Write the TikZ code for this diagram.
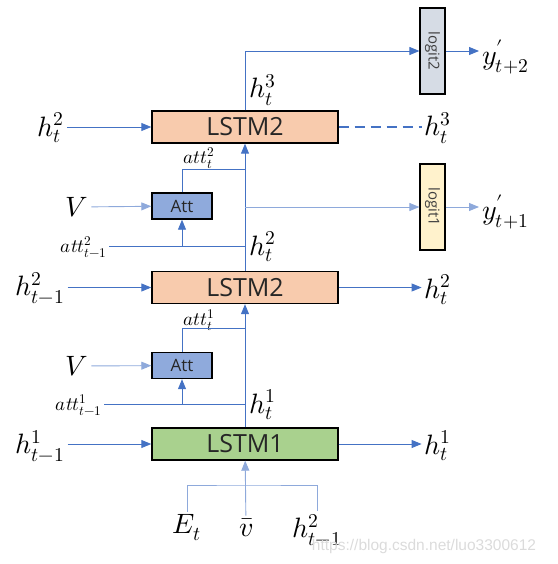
\documentclass[tikz,border=0pt]{standalone}
\usepackage{fontspec}
\usepackage{unicode-math}
\usepackage{graphicx}
\newfontfamily\boxfont{Open Sans}
\newfontfamily\markfont{Liberation Sans}
\usepackage{xcolor}
\definecolor{pLine}{HTML}{4472C4}
\definecolor{pLineLt}{HTML}{8EA9DB}
\definecolor{pPeach}{HTML}{F8CBAD}
\definecolor{pGreen}{HTML}{A9D18E}
\definecolor{pAtt}{HTML}{8FAADC}
\definecolor{pSlate}{HTML}{D6DCE5}
\definecolor{pCream}{HTML}{FFF2CC}
\definecolor{pInk}{HTML}{262626}
\usepackage{tikz}
\usetikzlibrary{arrows.meta, calc}

\tikzset{
  lstmbox/.style={draw=black, line width=1.4pt, minimum width=186pt, minimum height=32pt,
    text=pInk, font=\boxfont\fontsize{25}{28}\selectfont},
  attbox/.style={draw=black, fill=pAtt, line width=1.4pt, minimum width=60pt, minimum height=26pt,
    text=pInk, font=\boxfont\fontsize{17}{20}\selectfont},
  logitbox/.style={draw=black, line width=1.2pt, minimum width=25pt, minimum height=86pt,
    inner sep=0pt, text=black!75, font=\boxfont\fontsize{15}{17}\selectfont},
  mlabel/.style={inner sep=3pt, font=\fontsize{28}{31}\selectfont},
  slabel/.style={inner sep=2pt, font=\fontsize{19}{22}\selectfont},
  line/.style={pLine, line width=0.9pt},
  lineLt/.style={pLineLt, line width=0.9pt},
  arr/.style={line, -{Triangle[length=10pt, width=8pt]}},
  arrLt/.style={lineLt, -{Triangle[length=10pt, width=8pt]}},
  dashline/.style={pLine, line width=2.4pt, dash pattern=on 10pt off 6pt},
}

\begin{document}
\begin{tikzpicture}[x=1pt, y=-1pt]
\useasboundingbox (0,0) rectangle (557,564);

% boxes
\node[lstmbox, fill=pPeach] (lstmTop) at (245,127) {LSTM2};
\node[lstmbox, fill=pPeach] (lstmMid) at (245,287.5) {LSTM2};
\node[lstmbox, fill=pGreen] (lstmLow) at (245,444) {LSTM1};
\node[attbox] (attTop) at (182,206) {Att};
\node[attbox] (attLow) at (182,365.5) {Att};
\node[logitbox, fill=pSlate] (logitTwo) at (432.5,51) {\rotatebox{-90}{logit2}};
\node[logitbox, fill=pCream] (logitOne) at (432.5,207) {\rotatebox{-90}{logit1}};

% labels, upper layer
\node[mlabel] (hInTop) at (51,128) {$h_t^2$};
\node[mlabel] (hOutTop) at (438,128) {$h_t^3$};
\node[mlabel] (hUpTop) at (263,90) {$h_t^3$};
\node[mlabel, anchor=west] (yTwo) at (479,57) {$y^{\prime}_{t+2}$};
\node[mlabel, anchor=west] (yOne) at (479,212) {$y^{\prime}_{t+1}$};
\node[slabel] (attNowTop) at (199,158) {$att_t^2$};
\node[mlabel] (vTop) at (77,207) {$V$};
\node[slabel] (attPrevTop) at (84,247) {$att_{t-1}^2$};
\node[mlabel] (hUpMid) at (263,247) {$h_t^2$};

% labels, lower layers
\node[mlabel] (hInMid) at (40,288) {$h_{t-1}^2$};
\node[mlabel] (hOutMid) at (438,290) {$h_t^2$};
\node[slabel] (attNowLow) at (199,320) {$att_t^1$};
\node[mlabel] (vLow) at (77,366) {$V$};
\node[slabel] (attPrevLow) at (79,405) {$att_{t-1}^1$};
\node[mlabel] (hUpLow) at (263,405) {$h_t^1$};
\node[mlabel] (hInLow) at (40,446) {$h_{t-1}^1$};
\node[mlabel] (hOutLow) at (438,446) {$h_t^1$};
\node[mlabel] (eIn) at (187,528) {$E_t$};
\node[mlabel] (vbarIn) at (246,528) {$\bar{v}$};
\node[mlabel] (hPrevIn) at (317,530) {$h_{t-1}^2$};

\node[font=\markfont\fontsize{15.5}{17}\selectfont, text=black!14] (mark) at (424,546) {https://blog.csdn.net/luo3300612};

% joints on the main vertical
\coordinate (jTop) at (245,169);
\coordinate (kTop) at (245,207);
\coordinate (mTop) at (245,246);
\coordinate (jLow) at (245,328);
\coordinate (mLow) at (245,404);
\coordinate (bTop) at (245,485);

% upper layer
\draw[arr] (hInTop.east |- lstmTop) -- (lstmTop);
\draw[dashline] (lstmTop.east) -- (lstmTop.east -| hOutTop.west);
\draw[arr] (lstmTop.north) |- (logitTwo);
\draw[arr] (logitTwo.east) -- (logitTwo.east -| yTwo.west);
\draw[arr] (lstmMid) -- (lstmTop);
\draw[line] (attTop) |- (jTop);
\draw[arrLt] (vTop) -- (attTop);
\draw[arrLt] (kTop) -- (kTop -| logitOne.west);
\draw[arrLt] (logitOne.east |- kTop) -- (kTop -| yOne.west);
\draw[line] (attPrevTop.east |- mTop) -- (mTop);
\draw[arr] (attTop.south |- mTop) -- (attTop);

% middle layer
\draw[arr] (hInMid.east |- lstmMid) -- (lstmMid);
\draw[arr] (lstmMid) -- (lstmMid.east -| hOutMid.west);
\draw[arr] (lstmLow) -- (lstmMid);
\draw[line] (attLow) |- (jLow);
\draw[arrLt] (vLow) -- (attLow);
\draw[line] (attPrevLow.east |- mLow) -- (mLow);
\draw[arr] (attLow.south |- mLow) -- (attLow);

% bottom layer
\draw[arr] (hInLow.east |- lstmLow) -- (lstmLow);
\draw[arr] (lstmLow) -- (lstmLow.east -| hOutLow.west);
\draw[lineLt] (eIn) |- (bTop) -| (hPrevIn);
\draw[arrLt] (vbarIn) -- (lstmLow);
\end{tikzpicture}
\end{document}
